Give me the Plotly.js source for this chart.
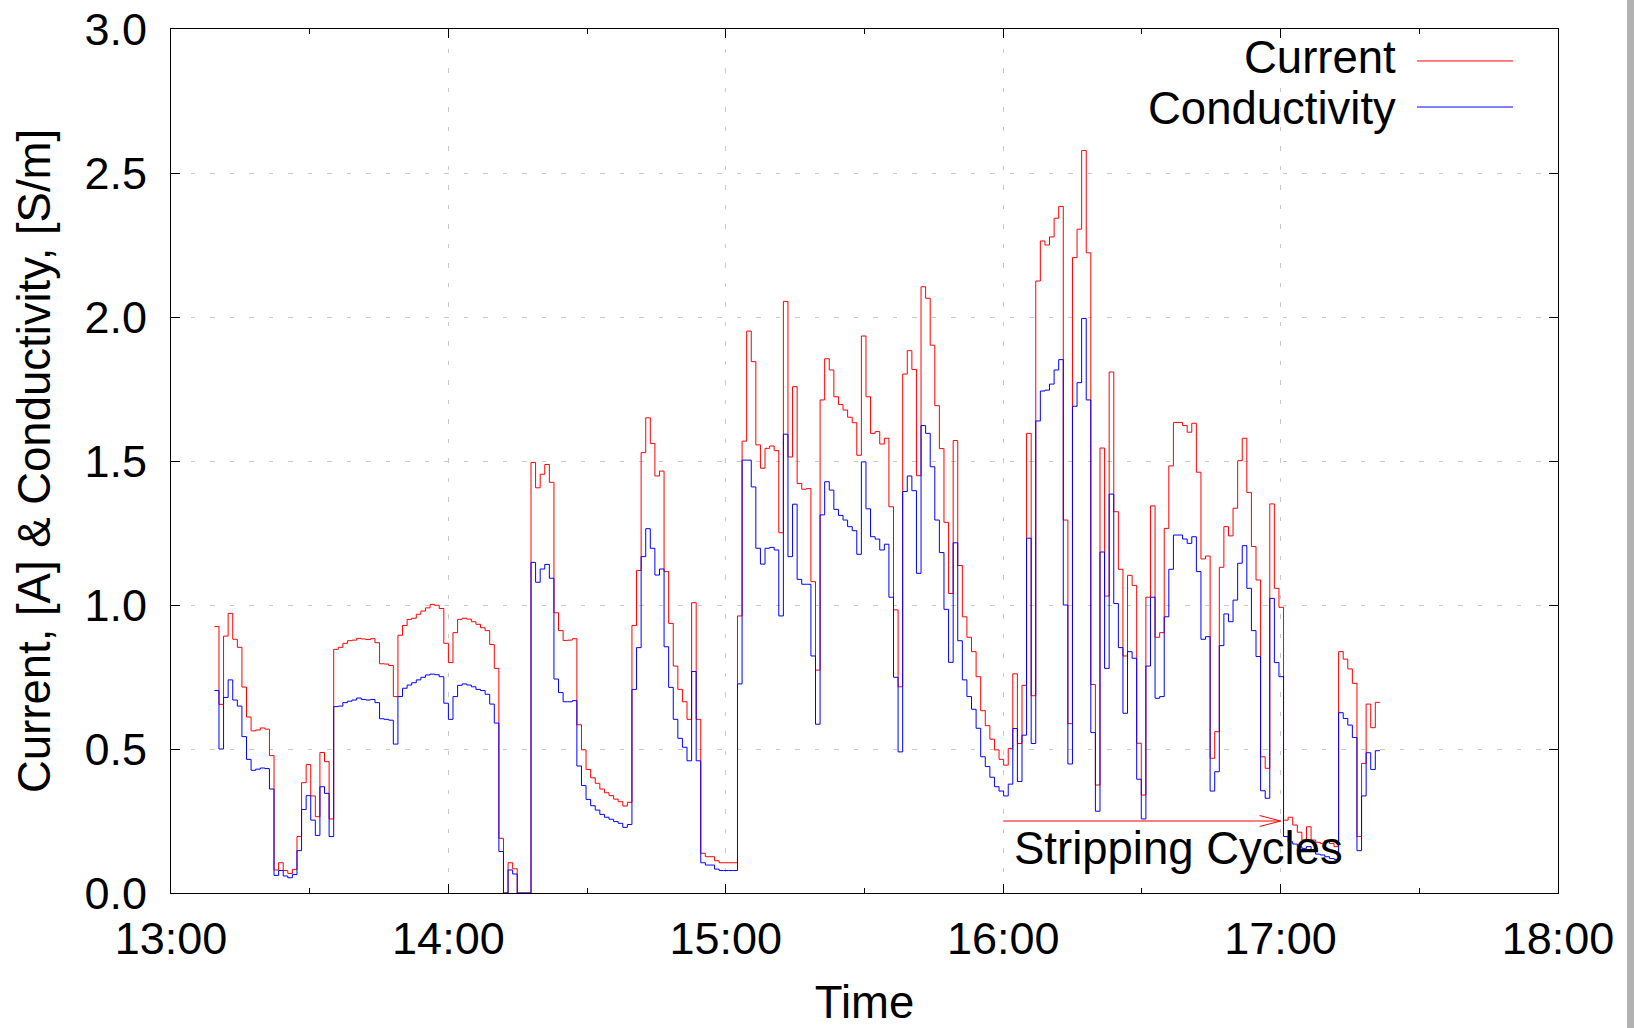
<!DOCTYPE html>
<html>
<head>
<meta charset="utf-8">
<script src="https://cdn.plot.ly/plotly-3.0.1.min.js"></script>
<style>
  html, body { margin: 0; padding: 0; background: #ffffff; }
  #chart { width: 1634px; height: 1028px; }
  #edge { position: absolute; left: 1627px; top: 0; width: 7px; height: 1028px; background: #b2b2b2; }
</style>
</head>
<body>
<div id="chart"></div>
<div id="edge"></div>
<script>
const START_TIME = '2000-01-01T13:09:23Z';
const SAMPLE_SECONDS = 59.55;

const CURRENT = [
  0.925, 0.655, 0.892, 0.971, 0.881, 0.853, 0.715, 0.611, 0.563, 0.566,
  0.573, 0.569, 0.477, 0.080, 0.105, 0.078, 0.068, 0.082, 0.196, 0.383,
  0.446, 0.337, 0.265, 0.488, 0.456, 0.257, 0.846, 0.853, 0.867, 0.876,
  0.878, 0.884, 0.882, 0.880, 0.883, 0.869, 0.796, 0.795, 0.790, 0.682,
  0.895, 0.929, 0.950, 0.954, 0.968, 0.979, 0.990, 1.002, 0.999, 0.988,
  0.867, 0.800, 0.904, 0.950, 0.954, 0.951, 0.942, 0.933, 0.921, 0.911,
  0.863, 0.780, 0.190, 0.000, 0.105, 0.084, 0.000, 0.000, 0.000, 1.495,
  1.407, 1.454, 1.488, 1.426, 0.973, 0.911, 0.877, 0.878, 0.883, 0.584,
  0.497, 0.429, 0.400, 0.381, 0.361, 0.348, 0.338, 0.326, 0.317, 0.302,
  0.315, 0.929, 1.120, 1.529, 1.650, 1.561, 1.448, 1.465, 1.116, 0.936,
  0.788, 0.707, 0.664, 0.603, 1.008, 0.603, 0.138, 0.126, 0.126, 0.112,
  0.105, 0.105, 0.105, 0.105, 0.962, 1.569, 1.951, 1.845, 1.556, 1.475,
  1.544, 1.552, 1.536, 1.251, 2.054, 1.514, 1.758, 1.422, 1.402, 1.404,
  1.081, 0.774, 1.712, 1.855, 1.816, 1.723, 1.696, 1.677, 1.652, 1.633,
  1.520, 1.934, 1.723, 1.596, 1.602, 1.559, 1.579, 1.341, 0.983, 0.716,
  1.802, 1.883, 1.818, 1.449, 2.105, 2.065, 1.902, 1.692, 1.543, 1.287,
  1.040, 1.571, 1.137, 0.959, 0.888, 0.838, 0.751, 0.633, 0.581, 0.534,
  0.497, 0.464, 0.444, 0.502, 0.761, 0.519, 0.721, 1.596, 0.685, 2.125,
  2.264, 2.250, 2.278, 2.343, 2.384, 1.295, 0.588, 2.206, 2.305, 2.578,
  2.223, 0.724, 0.375, 1.545, 1.031, 1.809, 1.324, 1.124, 0.823, 1.103,
  1.068, 0.520, 0.340, 1.027, 1.344, 0.888, 0.904, 1.266, 1.483, 1.634,
  1.634, 1.623, 1.600, 1.631, 1.461, 1.160, 1.170, 0.468, 0.560, 1.131,
  1.272, 1.240, 1.336, 1.501, 1.579, 1.391, 1.203, 1.087, 0.473, 0.433,
  1.351, 1.058, 0.992, 0.253, 0.263, 0.236, 0.211, 0.184, 0.230, 0.184,
  0.176, 0.172, 0.182, 0.172, 0.161, 0.838, 0.812, 0.778, 0.728, 0.196,
  0.450, 0.656, 0.574, 0.662
];

const CONDUCTIVITY = [
  0.703, 0.500, 0.679, 0.740, 0.670, 0.649, 0.543, 0.464, 0.426, 0.430,
  0.434, 0.432, 0.361, 0.061, 0.078, 0.059, 0.053, 0.064, 0.147, 0.290,
  0.338, 0.253, 0.200, 0.369, 0.346, 0.196, 0.647, 0.649, 0.661, 0.666,
  0.670, 0.677, 0.672, 0.670, 0.672, 0.661, 0.605, 0.603, 0.600, 0.517,
  0.682, 0.711, 0.722, 0.730, 0.740, 0.749, 0.757, 0.760, 0.758, 0.751,
  0.659, 0.603, 0.682, 0.721, 0.726, 0.722, 0.716, 0.707, 0.703, 0.690,
  0.656, 0.590, 0.144, 0.000, 0.080, 0.066, 0.000, 0.000, 0.000, 1.148,
  1.079, 1.125, 1.141, 1.093, 0.743, 0.696, 0.664, 0.664, 0.668, 0.441,
  0.373, 0.325, 0.303, 0.288, 0.273, 0.263, 0.256, 0.248, 0.242, 0.228,
  0.238, 0.707, 0.852, 1.168, 1.265, 1.197, 1.104, 1.125, 0.855, 0.714,
  0.603, 0.537, 0.506, 0.459, 0.769, 0.459, 0.105, 0.097, 0.097, 0.083,
  0.078, 0.078, 0.078, 0.078, 0.726, 1.503, 1.503, 1.410, 1.197, 1.142,
  1.197, 1.200, 1.191, 0.962, 1.593, 1.168, 1.350, 1.089, 1.072, 1.072,
  0.823, 0.586, 1.313, 1.428, 1.399, 1.332, 1.311, 1.295, 1.272, 1.258,
  1.176, 1.497, 1.334, 1.237, 1.229, 1.191, 1.211, 1.027, 0.749, 0.490,
  1.394, 1.448, 1.397, 1.110, 1.623, 1.596, 1.480, 1.295, 1.182, 0.985,
  0.801, 1.216, 0.876, 0.740, 0.682, 0.638, 0.572, 0.473, 0.439, 0.402,
  0.369, 0.354, 0.337, 0.378, 0.571, 0.387, 0.548, 1.232, 0.519, 1.639,
  1.743, 1.746, 1.767, 1.816, 1.852, 1.000, 0.448, 1.690, 1.772, 1.995,
  1.712, 0.557, 0.284, 1.184, 0.780, 1.385, 1.005, 0.852, 0.624, 0.838,
  0.815, 0.395, 0.257, 0.788, 1.027, 0.676, 0.682, 0.959, 1.124, 1.243,
  1.243, 1.229, 1.214, 1.237, 1.116, 0.881, 0.890, 0.354, 0.421, 0.859,
  0.969, 0.942, 1.017, 1.145, 1.206, 1.058, 0.911, 0.821, 0.355, 0.329,
  1.023, 0.800, 0.751, 0.196, 0.178, 0.170, 0.161, 0.155, 0.161, 0.149,
  0.135, 0.132, 0.126, 0.120, 0.117, 0.626, 0.606, 0.583, 0.540, 0.147,
  0.337, 0.487, 0.429, 0.494
];

const SERIES_NAMES = ['Current', 'Conductivity'];
const SERIES_COLORS = ['#ff0000', '#0000ff'];
const X_RANGE = ['2000-01-01 13:00', '2000-01-01 18:00'];
const Y_RANGE = [0, 3];
const ANNOT_TEXT = 'Stripping Cycles';
const ANNOT_FROM = '2000-01-01 16:00';
const ANNOT_TO = '2000-01-01 17:00';
const ANNOT_LEVEL = 0.25;
const ANNOT_TEXT_AT = '2000-01-01 16:02:00';
const ANNOT_TEXT_LEVEL = 0.155;

// ---- build traces (step lines; final sample held to the end of its interval) ----
const t0 = Date.parse(START_TIME);
function stepTrace(values, name, color) {
  const x = [], y = [];
  for (let i = 0; i < values.length; i++) {
    x.push(t0 + i * SAMPLE_SECONDS * 1000);
    y.push(values[i]);
  }
  x.push(t0 + values.length * SAMPLE_SECONDS * 1000);
  y.push(values[values.length - 1]);
  return {
    type: 'scatter', mode: 'lines', name: name, x: x, y: y,
    line: { shape: 'hv', color: color, width: 1 },
    showlegend: false, hoverinfo: 'x+y+name'
  };
}
const traces = [
  stepTrace(CURRENT, SERIES_NAMES[0], SERIES_COLORS[0]),
  stepTrace(CONDUCTIVITY, SERIES_NAMES[1], SERIES_COLORS[1])
];

const FONT = 'Liberation Sans, Arial, Helvetica, sans-serif';
const FS_TICK = 45;
const FS = 45.5;

const axisCommon = {
  showline: true, linecolor: '#000000', linewidth: 1, mirror: 'allticks',
  ticks: 'inside', ticklen: 9, tickwidth: 1, tickcolor: '#000000',
  showgrid: true, gridcolor: '#c8c8c8', gridwidth: 1, griddash: '4.5px,15px',
  zeroline: false, tickfont: { family: FONT, size: FS_TICK, color: '#000000' }
};

const msTo = Date.parse(ANNOT_TO.replace(' ', 'T') + ':00Z');

const layout = {
  width: 1634, height: 1028,
  margin: { l: 171, r: 76, t: 29, b: 135, pad: 0 },
  paper_bgcolor: '#ffffff', plot_bgcolor: '#ffffff',
  font: { family: FONT, size: FS, color: '#000000' },
  xaxis: Object.assign({}, axisCommon, {
    type: 'date', range: X_RANGE, dtick: 3600000, tickformat: '%H:%M',
    tick0: X_RANGE[0],
    ticklabelstandoff: 6,
    minor: { dtick: 1800000, ticks: 'inside', ticklen: 5, tickcolor: '#000000', showgrid: false },
    title: { text: 'Time', font: { family: FONT, size: FS }, standoff: 28 }
  }),
  yaxis: Object.assign({}, axisCommon, {
    range: Y_RANGE, dtick: 0.5, tickformat: '.1f',
    ticklabelstandoff: 14,
    title: { text: 'Current, [A] & Conductivity, [S/m]', font: { family: FONT, size: FS }, standoff: 19 }
  }),
  shapes: [
    { type: 'line', xref: 'x', yref: 'y', x0: ANNOT_FROM, x1: ANNOT_TO, y0: ANNOT_LEVEL, y1: ANNOT_LEVEL,
      line: { color: '#ff0000', width: 1 } },
    { type: 'line', xref: 'x', yref: 'y', xsizemode: 'pixel', ysizemode: 'pixel',
      xanchor: msTo, yanchor: ANNOT_LEVEL, x0: -21, x1: 0, y0: 5.5, y1: 0,
      line: { color: '#ff0000', width: 1 } },
    { type: 'line', xref: 'x', yref: 'y', xsizemode: 'pixel', ysizemode: 'pixel',
      xanchor: msTo, yanchor: ANNOT_LEVEL, x0: -21, x1: 0, y0: -5.5, y1: 0,
      line: { color: '#ff0000', width: 1 } },
    // legend line samples
    { type: 'line', xref: 'paper', yref: 'paper', x0: 0.8983, x1: 0.9676, y0: 0.963, y1: 0.963,
      line: { color: SERIES_COLORS[0], width: 1 } },
    { type: 'line', xref: 'paper', yref: 'paper', x0: 0.8983, x1: 0.9676, y0: 0.9097, y1: 0.9097,
      line: { color: SERIES_COLORS[1], width: 1 } }
  ],
  annotations: [
    { text: ANNOT_TEXT, xref: 'x', yref: 'y', x: ANNOT_TEXT_AT, y: ANNOT_TEXT_LEVEL,
      xanchor: 'left', yanchor: 'middle', showarrow: false, font: { family: FONT, size: FS } },
    { text: SERIES_NAMES[0], xref: 'paper', yref: 'paper', x: 0.884, y: 0.9675,
      xanchor: 'right', yanchor: 'middle', showarrow: false, borderpad: 0, font: { family: FONT, size: FS } },
    { text: SERIES_NAMES[1], xref: 'paper', yref: 'paper', x: 0.884, y: 0.9075,
      xanchor: 'right', yanchor: 'middle', showarrow: false, borderpad: 0, font: { family: FONT, size: FS } }
  ]
};

Plotly.newPlot('chart', traces, layout, { staticPlot: true, displayModeBar: false });
</script>
</body>
</html>
